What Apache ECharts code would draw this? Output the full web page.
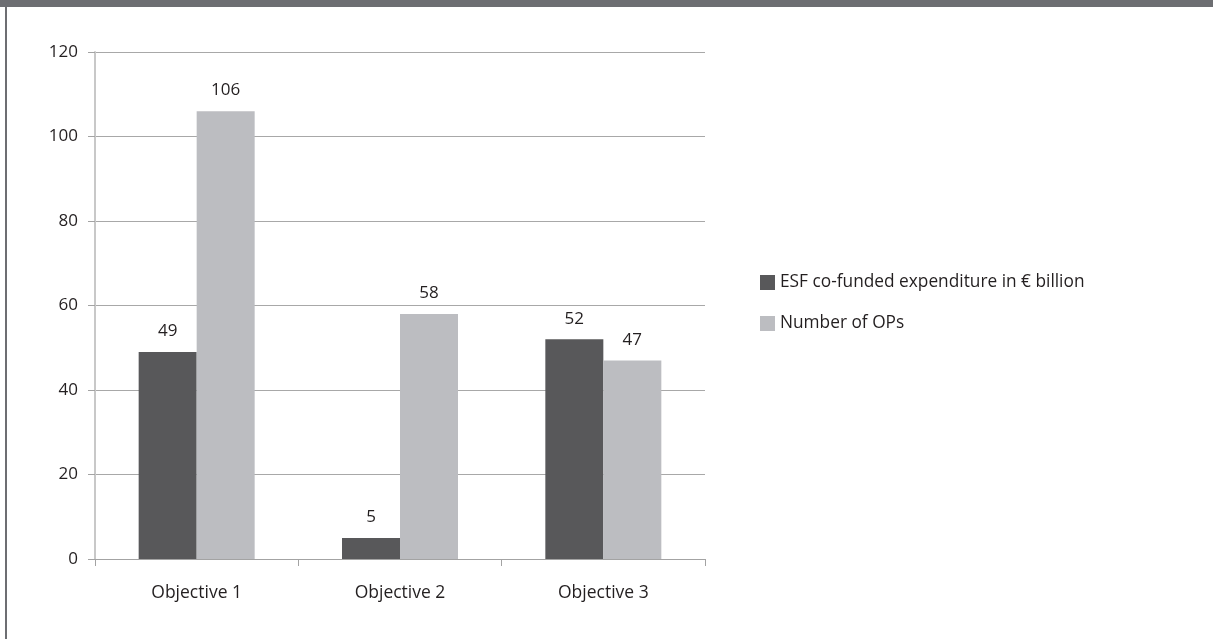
<!DOCTYPE html>
<html>
<head>
<meta charset="utf-8">
<script src="https://cdn.jsdelivr.net/npm/echarts@6/dist/echarts.min.js"></script>
<style>
  html, body { margin: 0; padding: 0; background: #fff; }
  #frame { position: absolute; left: 0; top: 0; width: 1213px; height: 639px; }
  #topbar { position: absolute; left: 0; top: 0; width: 1213px; height: 7px; background: #6d6e72; }
  #leftbar { position: absolute; left: 5px; top: 7px; width: 2px; height: 632px; background: #6d6e72; }
  #main { position: absolute; left: 0; top: 0; width: 1213px; height: 639px; }
</style>
</head>
<body>
<div id="frame">
  <div id="main"></div>
  <div id="topbar"></div>
  <div id="leftbar"></div>
</div>
<script>
const categories = ['Objective 1', 'Objective 2', 'Objective 3'];
const esfExpenditure = [49, 5, 52];
const numberOfOps = [106, 58, 47];
const seriesNames = ['ESF co-funded expenditure in € billion', 'Number of OPs'];

const chart = echarts.init(document.getElementById('main'));
const font = 'Open Sans, Liberation Sans, sans-serif';

const labelStyle = {
  show: true,
  position: 'top',
  distance: 12,
  color: '#231f20',
  fontSize: 17,
  fontFamily: font,
};

const option = {
  animation: false,
  textStyle: { fontFamily: font },
  grid: { left: 95, top: 52, width: 610, height: 507 },
  legend: {
    orient: 'vertical',
    left: 760,
    top: 274,
    padding: 0,
    itemWidth: 15,
    itemHeight: 15,
    itemGap: 24,
    icon: 'rect',
    textStyle: { color: '#231f20', fontSize: 17.3, fontFamily: font },
    data: seriesNames,
  },
  xAxis: {
    type: 'category',
    data: categories,
    axisLine: { lineStyle: { color: '#a3a3a3', width: 1 } },
    axisTick: { show: true, length: 7, lineStyle: { color: '#a3a3a3' } },
    axisLabel: { color: '#231f20', fontSize: 17.5, fontFamily: font, margin: 25 },
  },
  yAxis: {
    type: 'value',
    min: 0,
    max: 120,
    interval: 20,
    axisLine: { show: true, lineStyle: { color: '#c8c8c8', width: 2 } },
    axisTick: { show: true, length: 7, lineStyle: { color: '#a3a3a3' } },
    axisLabel: { color: '#231f20', fontSize: 17, fontFamily: font, margin: 17 },
    splitLine: { lineStyle: { color: '#a8a8a8', width: 1 } },
  },
  series: [
    {
      name: seriesNames[0],
      type: 'bar',
      data: esfExpenditure,
      barWidth: 58,
      barGap: '0%',
      itemStyle: { color: '#58585a' },
      label: labelStyle,
    },
    {
      name: seriesNames[1],
      type: 'bar',
      data: numberOfOps,
      barWidth: 58,
      barGap: '0%',
      itemStyle: { color: '#bcbdc1' },
      label: labelStyle,
    },
  ],
};

chart.setOption(option);
</script>
</body>
</html>
